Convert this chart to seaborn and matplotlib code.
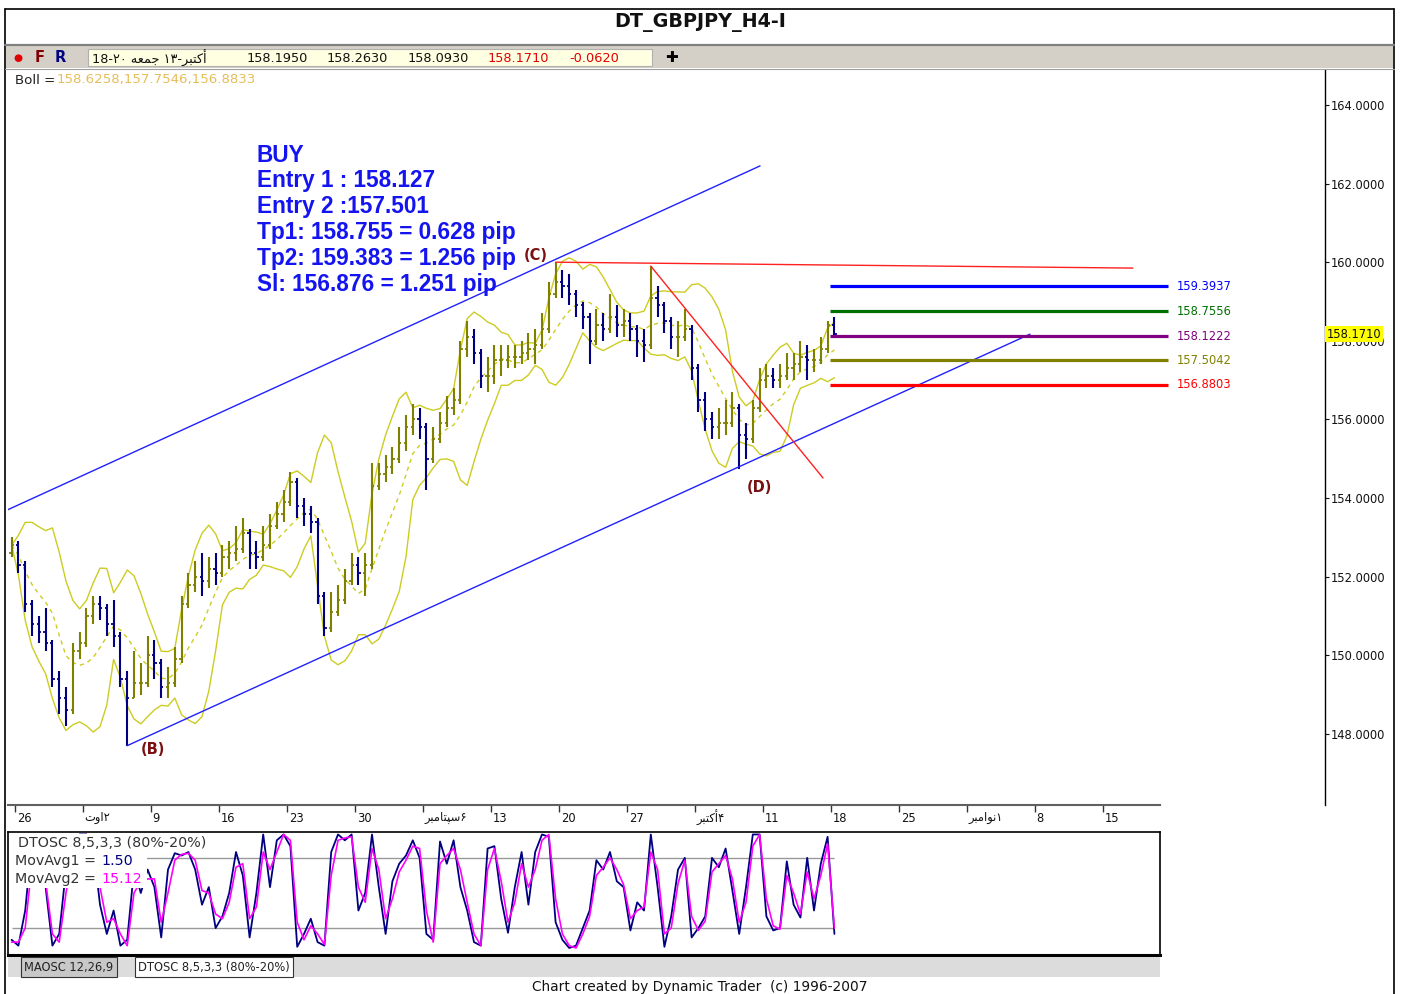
import numpy as np
import pandas as pd
import seaborn as sns
import matplotlib.pyplot as plt
import matplotlib.transforms as mtrans
from matplotlib.patches import Rectangle
from matplotlib.lines import Line2D

sns.set_style("white")
plt.rcParams['font.family'] = ['DejaVu Sans']

W, H = 1401, 994

# ---- data: GBPJPY, 12h bars (days counted in trading days from Fri 26 Jul) ----
first_open = 152.6
closes = [152.8, 152.3, 151.3, 150.8, 150.6, 150.3, 149.4, 148.9, 148.6, 150.1,
          150.3, 151.0, 151.3, 151.2, 150.8, 150.5, 149.4, 148.9, 149.3, 149.3,
          150.0, 149.8, 149.2, 149.3, 149.9, 151.3, 151.8, 152.0, 151.9, 152.2,
          152.1, 152.5, 152.6, 152.7, 153.1, 152.6, 152.5, 152.8, 153.3, 153.6,
          153.9, 154.4, 153.8, 153.6, 153.4, 151.5, 150.7, 151.1, 151.4, 151.9,
          152.3, 152.1, 152.3, 154.3, 154.6, 154.8, 155.0, 155.4, 155.8, 156.0,
          155.8, 155.0, 155.5, 155.9, 156.3, 156.5, 157.8, 158.1, 157.7, 157.1,
          157.1, 157.5, 157.5, 157.6, 157.6, 157.7, 157.8, 157.9, 158.3, 159.2,
          159.5, 159.4, 159.2, 158.9, 158.6, 158.0, 158.4, 158.3, 158.6, 158.4,
          158.5, 158.3, 158.0, 157.9, 159.1, 158.9, 158.5, 158.1, 158.1, 158.3,
          157.3, 156.5, 156.0, 155.8, 155.9, 155.9, 156.3, 155.6, 155.5, 156.3,
          157.0, 157.1, 157.0, 157.1, 157.3, 157.4, 157.6, 157.5, 157.5, 157.8,
          158.4, 158.17]
highs = [153.0, 152.9, 152.4, 151.4, 151.0, 151.2, 150.4, 149.6, 149.2, 150.3,
         150.6, 151.2, 151.5, 151.5, 151.3, 151.4, 150.6, 149.6, 150.1, 149.8,
         150.5, 150.4, 149.9, 149.7, 150.2, 151.5, 152.1, 152.4, 152.6, 152.5,
         152.6, 152.8, 152.9, 153.3, 153.5, 153.2, 152.9, 153.3, 153.6, 153.9,
         154.2, 154.65, 154.5, 154.0, 153.8, 153.5, 151.6, 151.6, 151.8, 152.2,
         152.6, 152.5, 152.6, 154.9, 154.9, 155.1, 155.3, 155.8, 156.1, 156.4,
         156.3, 155.9, 155.8, 156.2, 156.6, 156.8, 158.0, 158.5, 158.3, 157.8,
         157.6, 157.9, 157.9, 157.9, 157.9, 158.0, 158.2, 158.3, 158.7, 159.5,
         160.0, 159.8, 159.7, 159.3, 159.0, 158.7, 158.8, 158.7, 159.2, 158.9,
         158.8, 158.7, 158.4, 158.3, 159.9, 159.4, 159.0, 158.6, 158.5, 158.8,
         158.4, 157.4, 156.7, 156.2, 156.3, 156.5, 156.7, 156.4, 155.9, 156.5,
         157.3, 157.4, 157.3, 157.4, 157.7, 157.7, 158.0, 157.9, 157.8, 158.1,
         158.5, 158.6]
lows = [152.5, 152.1, 151.1, 150.5, 150.3, 150.1, 149.2, 148.5, 148.2, 148.5,
        149.9, 150.2, 150.8, 150.9, 150.5, 150.2, 149.2, 147.7, 148.9, 149.0,
        149.2, 149.4, 148.9, 148.9, 149.2, 149.8, 151.2, 151.6, 151.5, 151.7,
        151.8, 152.0, 152.2, 152.4, 152.6, 152.2, 152.2, 152.4, 152.7, 153.2,
        153.4, 153.8, 153.5, 153.3, 153.1, 151.3, 150.5, 150.6, 151.0, 151.3,
        151.8, 151.8, 151.5, 152.2, 154.2, 154.4, 154.6, 154.9, 155.2, 155.6,
        155.5, 154.2, 154.9, 155.4, 155.8, 156.1, 156.4, 157.6, 157.4, 156.8,
        156.7, 156.9, 157.1, 157.3, 157.3, 157.4, 157.5, 157.4, 157.8, 158.2,
        159.1, 159.1, 158.9, 158.6, 158.3, 157.4, 157.9, 158.0, 158.2, 158.1,
        158.1, 158.0, 157.6, 157.45, 157.8, 158.6, 158.2, 157.8, 157.6, 158.0,
        157.0, 156.2, 155.7, 155.5, 155.5, 155.6, 155.8, 154.75, 155.0, 155.4,
        156.2, 156.8, 156.8, 156.8, 157.0, 157.0, 157.2, 157.0, 157.2, 157.4,
        157.7, 158.09]

# DTOSC 8,5,3,3 : fast line and MovAvg2 line
osc_fast = [10, 5, 35, 95, 70, 55, 5, 15, 70, 95,
            100, 100, 90, 40, 15, 35, 5, 10, 70, 50,
            70, 55, 12, 70, 84, 82, 85, 70, 40, 55,
            20, 30, 50, 85, 65, 12, 50, 100, 55, 95,
            100, 90, 4, 15, 28, 8, 5, 85, 100, 95,
            100, 35, 50, 100, 55, 15, 60, 75, 82, 95,
            80, 15, 10, 94, 75, 95, 55, 35, 8, 5,
            88, 90, 45, 16, 55, 85, 40, 85, 100, 98,
            25, 10, 3, 5, 20, 35, 78, 70, 85, 60,
            55, 18, 42, 35, 100, 55, 4, 30, 70, 80,
            12, 20, 30, 80, 72, 88, 52, 15, 55, 100,
            100, 30, 18, 20, 77, 40, 29, 80, 35, 75,
            98, 15]
osc_slow = [8, 8, 20, 75, 85, 60, 15, 8, 50, 85,
            98, 100, 95, 55, 25, 28, 15, 5, 50, 60,
            62, 62, 25, 50, 78, 83, 84, 78, 52, 50,
            32, 28, 42, 72, 75, 28, 38, 85, 70, 85,
            100, 95, 25, 10, 22, 15, 6, 65, 95, 97,
            98, 55, 42, 88, 70, 28, 45, 68, 78, 90,
            88, 35, 8, 75, 82, 88, 70, 42, 15, 5,
            70, 88, 60, 25, 42, 75, 55, 70, 95, 100,
            45, 15, 5, 3, 15, 30, 65, 72, 80, 70,
            57, 28, 35, 38, 85, 70, 15, 20, 58, 78,
            30, 18, 26, 68, 75, 82, 62, 25, 42, 90,
            100, 45, 22, 19, 65, 50, 32, 68, 45, 65,
            92, 20]

# weekly date ticks (Fridays), labels as shown
tick_days = [0, 5, 10, 15, 20, 25, 30, 35, 40, 45, 50, 55, 60, 65, 70, 75, 80]
tick_labels = ['26', '\uFE95\uFEED\uFE8D\u06F2', '9', '16', '23', '30',
               '\uFEAE\uFE92\uFEE3\uFE8E\uFE98\uFB59\uFEB3\u06F6', '13', '20', '27',
               '\uFEAE\uFE92\uFE98\uFEDB\uFE83\u06F4', '11', '18', '25',
               '\uFEAE\uFE92\uFEE3\uFE8D\uFEEE\uFEE7\u06F1', '8', '15']

# fibonacci targets
fib_levels = [159.3937, 158.7556, 158.1222, 157.5042, 156.8803]
fib_colors = ['#0000FF', '#007000', '#800080', '#808000', '#FF0000']
fib_span = [59.93, 84.78]

# drawn trend lines (day, price)
chan_upper_d, chan_upper_p = [-0.735, 54.78], [153.67, 162.45]
chan_lower_d, chan_lower_p = [8.25, 74.63], [147.7, 158.17]
res_d, res_p = [39.75, 82.2], [160.0, 159.85]
fall_d, fall_p = [46.75, 59.41], [159.9, 154.51]

buy_lines = ['BUY', 'Entry 1 : 158.127', 'Entry 2 :157.501',
             'Tp1: 158.755 = 0.628 pip', 'Tp2: 159.383 = 1.256 pip',
             'Sl: 156.876 = 1.251 pip']

last_price = 158.1710
boll_text = '158.6258,157.7546,156.8833'

# ---- frame ----
df = pd.DataFrame({'close': closes, 'high': highs, 'low': lows})
df['day'] = np.arange(len(df)) * 0.5 - 0.25
df['open'] = df['close'].shift(1).fillna(first_open)
mid = df['close'].rolling(7, min_periods=1).mean()
sd = df['close'].rolling(7, min_periods=1).std(ddof=0)
df['bb_mid'] = mid
df['bb_up'] = mid + 2 * sd
df['bb_lo'] = mid - 2 * sd
df['osc_fast'] = osc_fast
df['osc_slow'] = osc_slow

fig = plt.figure(figsize=(W / 100, H / 100), dpi=100)
fig.patch.set_facecolor('white')


def fx(x):
    return x / W


def fy(y):
    return 1 - y / H


def fline(xs, ys, **kw):
    fig.add_artist(Line2D([fx(v) for v in xs], [fy(v) for v in ys],
                          transform=fig.transFigure, **kw))


# window chrome
fline([5, 5], [9, 994], color='black', lw=1.2)
fline([1394, 1394], [9, 994], color='black', lw=1.2)
fline([5, 1394], [9, 9], color='black', lw=1.2)
fline([5, 1394], [44.5, 44.5], color='#808080', lw=1.6)
fig.add_artist(Rectangle((fx(6), fy(68)), fx(1393) - fx(6), 22 / H,
                         transform=fig.transFigure, fc='#D4D0C8', ec='none'))
fig.add_artist(Rectangle((fx(88), fy(66)), fx(652) - fx(88), 17 / H,
                         transform=fig.transFigure, fc='#FFFFE1', ec='#B0B0B0', lw=0.8))
fline([5, 1394], [69, 69], color='#A0A0A0', lw=0.8)

fig.text(fx(700), fy(23), 'DT_GBPJPY_H4-I', ha='center', va='center',
         fontsize=13.8, weight='bold', color='#111111')
fig.text(fx(18), fy(58), '\u25CF', ha='center', va='center', fontsize=7.5, color='#E00000')
fig.text(fx(40), fy(58), 'F', ha='center', va='center', fontsize=10.5, weight='bold', color='#800000')
fig.text(fx(60), fy(58), 'R', ha='center', va='center', fontsize=10.5, weight='bold', color='#000080')
hdr = ('18-\u06F2\u06F0 \uFEEA\uFECC\uFEE4\uFE9F \u06F1\u06F3-'
       '\uFEAE\uFE92\uFE98\uFEDB\uFE83')
fig.text(fx(92), fy(58), hdr, ha='left', va='center', fontsize=9.3, color='#111111')
for xp, t, c in [(247, '158.1950', '#111111'), (327, '158.2630', '#111111'),
                 (408, '158.0930', '#111111'), (488, '158.1710', '#E00000'),
                 (569, '-0.0620', '#E00000')]:
    fig.text(fx(xp), fy(58), t, ha='left', va='center', fontsize=9.3, color=c)
fig.text(fx(672), fy(58), '\u271A', ha='center', va='center', fontsize=11, color='black')

fig.text(fx(15), fy(80), 'Boll =', ha='left', va='center', fontsize=9.6, color='#202020')
fig.text(fx(57), fy(80), boll_text, ha='left', va='center', fontsize=9.6, color='#E6BE5A')

# ---- price panel ----
ax = fig.add_axes([fx(8), fy(805), (1325 - 8) / W, (805 - 70) / H])
ax.set_xlim(-0.515, 96.32)
ax.set_ylim(146.19, 164.89)
for s in ['top', 'left', 'bottom']:
    ax.spines[s].set_visible(False)
ax.spines['right'].set_color('black')
ax.spines['right'].set_linewidth(1.0)
ax.yaxis.tick_right()
ax.set_yticks(np.arange(148, 165, 2))
ax.set_yticklabels([f'{v:.4f}' for v in np.arange(148, 165, 2)])
ax.tick_params(axis='y', direction='out', length=3, width=0.8, labelsize=8.3, pad=1,
               right=True, left=False, colors='#111111')
ax.set_xticks([])

band_c = '#CCCC22'
sns.lineplot(x=df['day'], y=df['bb_up'], ax=ax, color=band_c, lw=1.0, zorder=2)
sns.lineplot(x=df['day'], y=df['bb_lo'], ax=ax, color=band_c, lw=1.0, zorder=2)
sns.lineplot(x=df['day'], y=df['bb_mid'], ax=ax, color=band_c, lw=1.0, ls=(0, (3, 3)), zorder=2)
ax.set_xlabel('')
ax.set_ylabel('')

bar_cols = np.where(df['close'] >= df['open'], '#808000', '#000080')
ax.vlines(df['day'], df['low'], df['high'], colors=bar_cols, lw=1.5, zorder=3)
ax.hlines(df['open'], df['day'] - 0.16, df['day'], colors=bar_cols, lw=1.3, zorder=3)
ax.hlines(df['close'], df['day'], df['day'] + 0.16, colors=bar_cols, lw=1.3, zorder=3)

ax.plot(chan_upper_d, chan_upper_p, color='#2020FF', lw=1.0, zorder=4)
ax.plot(chan_lower_d, chan_lower_p, color='#2020FF', lw=1.0, zorder=4)
ax.plot(res_d, res_p, color='#FF2020', lw=1.0, zorder=4)
ax.plot(fall_d, fall_p, color='#FF2020', lw=1.0, zorder=4)

ax.hlines(fib_levels, fib_span[0], fib_span[1], colors=fib_colors, lw=2.3, zorder=5)
for lv, c in zip(fib_levels, fib_colors):
    ax.text(fib_span[1] + 0.66, lv, f'{lv:.4f}', color=c, va='center', ha='left', fontsize=8.3)

ax.text(38.3, 160.18, '(C)', color='#7A1010', fontsize=10.5, weight='bold', ha='center', va='center')
ax.text(10.15, 147.59, '(B)', color='#7A1010', fontsize=10.5, weight='bold', ha='center', va='center')
ax.text(54.7, 154.28, '(D)', color='#7A1010', fontsize=10.5, weight='bold', ha='center', va='center')

tr = mtrans.blended_transform_factory(ax.transAxes, ax.transData)
ax.text(1.0015, last_price, f'{last_price:.4f}', transform=tr, ha='left', va='center',
        fontsize=8.3, color='#111111', zorder=6,
        bbox=dict(boxstyle='square,pad=0.15', fc='#FFFF00', ec='none'))

for i, t in enumerate(buy_lines):
    fig.text(fx(257), fy(155 + 26 * i), t, ha='left', va='center', fontsize=16.3,
             weight='bold', color='#1414F0', family=['Liberation Sans', 'DejaVu Sans'])

# ---- date strip ----
axd = fig.add_axes([fx(8), fy(830), 1152 / W, 25 / H])
axd.set_xlim(-0.515, 84.19)
axd.set_ylim(0, 1)
for s in ['left', 'right', 'bottom']:
    axd.spines[s].set_visible(False)
axd.spines['top'].set_color('#606060')
axd.spines['top'].set_linewidth(1.5)
axd.set_yticks([])
axd.set_xticks(tick_days)
axd.xaxis.set_ticks_position('top')
axd.tick_params(axis='x', direction='in', length=5, width=1, colors='#333333',
                labeltop=False, labelbottom=False)
for d, lab in zip(tick_days, tick_labels):
    axd.text(d + 0.12, 0.48, lab, ha='left', va='center', fontsize=8.3, color='#111111')

# ---- oscillator ----
axo = fig.add_axes([fx(8), fy(955), 1152 / W, 123 / H])
axo.set_xlim(-0.515, 84.19)
axo.set_ylim(-3.0, 102.1)
for s in axo.spines.values():
    s.set_color('black')
    s.set_linewidth(1.2)
axo.spines['bottom'].set_linewidth(2.2)
axo.set_xticks([])
axo.set_yticks([])
axo.hlines([20, 80], df['day'].iloc[0], df['day'].iloc[-1], color='#999999', lw=1.0, zorder=1)
sns.lineplot(x=df['day'], y=df['osc_fast'], ax=axo, color='#000080', lw=1.3, zorder=2)
sns.lineplot(x=df['day'], y=df['osc_slow'], ax=axo, color='#FF00FF', lw=1.2, zorder=3)
axo.set_xlabel('')
axo.set_ylabel('')

fig.add_artist(Rectangle((fx(9), fy(888)), fx(147) - fx(9), 54 / H,
                         transform=fig.transFigure, fc='white', ec='none', zorder=2))
fig.add_artist(Rectangle((fx(9), fy(851)), fx(214) - fx(9), 17 / H,
                         transform=fig.transFigure, fc='white', ec='none', zorder=2))
fig.text(fx(18), fy(843), 'DTOSC 8,5,3,3 (80%-20%)', ha='left', va='center',
         fontsize=10.3, color='#333333', zorder=5)
fig.text(fx(15), fy(861), 'MovAvg1 =', ha='left', va='center', fontsize=10.3, color='#333333', zorder=5)
fig.text(fx(101), fy(861), '1.50', ha='left', va='center', fontsize=10.3, color='#000080', zorder=5)
fig.text(fx(15), fy(879), 'MovAvg2 =', ha='left', va='center', fontsize=10.3, color='#333333', zorder=5)
fig.text(fx(101), fy(879), '15.12', ha='left', va='center', fontsize=10.3, color='#FF00FF', zorder=5)

# ---- tabs ----
axt = fig.add_axes([fx(8), fy(977), 1152 / W, 20 / H])
axt.set_facecolor('#DCDCDC')
for s in axt.spines.values():
    s.set_visible(False)
axt.set_xticks([])
axt.set_yticks([])
axt.text(0.014, 0.5, 'MAOSC 12,26,9', transform=axt.transAxes, ha='left', va='center',
         fontsize=8.3, color='#222222',
         bbox=dict(boxstyle='square,pad=0.3', fc='#C8C8C8', ec='#333333', lw=0.8))
axt.text(0.113, 0.5, 'DTOSC 8,5,3,3 (80%-20%)', transform=axt.transAxes, ha='left', va='center',
         fontsize=8.3, color='#222222',
         bbox=dict(boxstyle='square,pad=0.3', fc='white', ec='#333333', lw=0.8))

fig.text(fx(700), fy(987), 'Chart created by Dynamic Trader  (c) 1996-2007', ha='center',
         va='center', fontsize=9.9, color='#111111')

fig.savefig('out.png', dpi=100)
